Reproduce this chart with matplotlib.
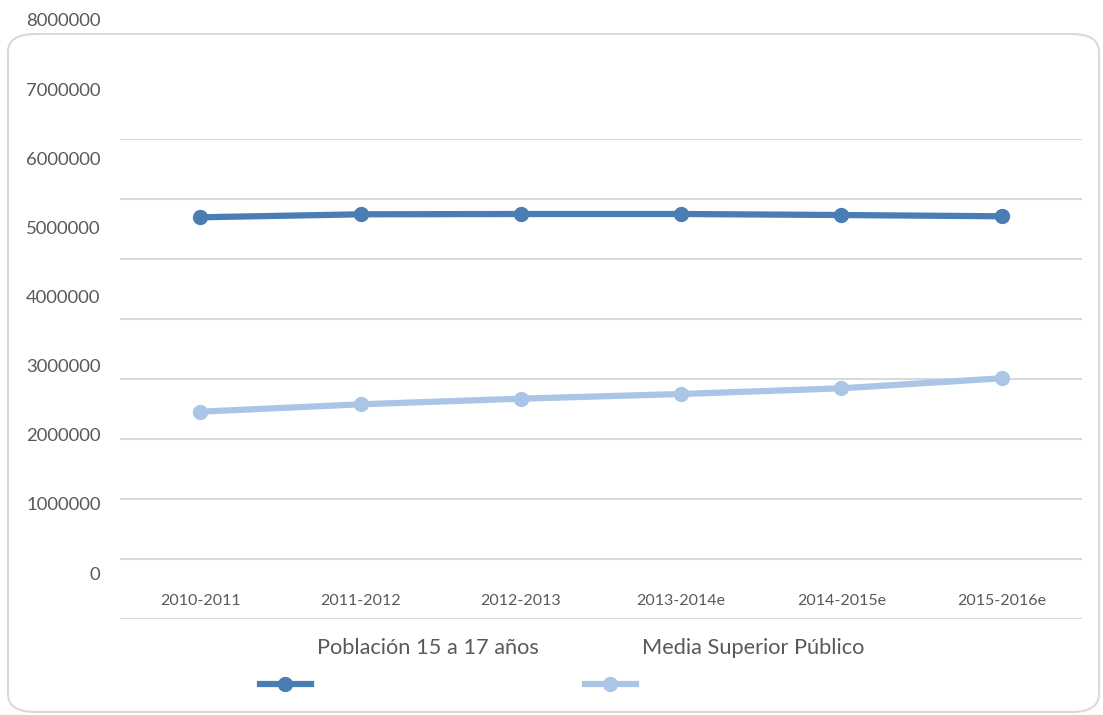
import matplotlib.pyplot as plt
from matplotlib.patches import FancyBboxPatch
from matplotlib.lines import Line2D

# Datos
ciclos = ["2010-2011", "2011-2012", "2012-2013", "2013-2014e", "2014-2015e", "2015-2016e"]
poblacion_15_17 = [6695000, 6745000, 6750000, 6750000, 6733000, 6712000]
media_superior_publico = [3455000, 3578000, 3672000, 3750000, 3845000, 4012000]
etiquetas_y = [0, 1000000, 2000000, 3000000, 4000000, 5000000, 6000000, 7000000, 8000000]

azul = "#4a7db3"
celeste = "#abc5e6"
gris = "#595959"
plt.rcParams["font.family"] = ["Lato", "DejaVu Sans"]

W, H = 1103, 715
fig = plt.figure(figsize=(W / 100, H / 100), dpi=100)

# marco redondeado
marco = FancyBboxPatch((8 / W, 3 / H), 1091 / W, 678 / H,
                       boxstyle="round,pad=0,rounding_size=0.025",
                       transform=fig.transFigure, fill=False,
                       edgecolor="#d9d9d9", linewidth=1.5)
fig.patches.append(marco)

# ejes principales (lineas y cuadricula)
ax = fig.add_axes([120 / W, (H - 619) / H, 962 / W, 480 / H])
x = range(len(ciclos))
ax.plot(x, poblacion_15_17, color=azul, lw=4.5, marker="o", ms=10,
        solid_capstyle="round", zorder=3)
ax.plot(x, media_superior_publico, color=celeste, lw=4.5, marker="o", ms=10,
        solid_capstyle="round", zorder=3)
ax.set_xlim(-0.5, len(ciclos) - 0.5)
ax.set_ylim(0, 8000000)
ax.set_yticks(etiquetas_y)
ax.set_yticklabels([])
ax.grid(axis="y", color="#d9d9d9", lw=1.5)
ax.set_axisbelow(True)
ax.set_xticks(list(x))
ax.set_xticklabels(ciclos, fontsize=11.5, color=gris)
ax.tick_params(axis="x", length=0, pad=-18)
ax.tick_params(axis="y", length=0)
for s in ax.spines.values():
    s.set_visible(False)

# eje de etiquetas (desplazado como en el original)
ax2 = fig.add_axes([120 / W, (H - 573) / H, 962 / W, 553 / H])
ax2.patch.set_visible(False)
ax2.set_ylim(0, 8000000)
ax2.set_yticks(etiquetas_y)
ax2.set_yticklabels([str(v) for v in etiquetas_y], fontsize=13.3, color=gris)
ax2.tick_params(axis="y", length=0, pad=14)
ax2.set_xticks([])
for s in ax2.spines.values():
    s.set_visible(False)

# leyenda
fig.text(317 / W, (H - 648) / H, "Población 15 a 17 años", fontsize=15.7,
         color=gris, va="center", ha="left")
fig.text(642 / W, (H - 648) / H, "Media Superior Público", fontsize=15.7,
         color=gris, va="center", ha="left")
for x0, c in [(260, azul), (585, celeste)]:
    fig.lines.append(Line2D([x0 / W, (x0 + 51) / W], [(H - 684) / H] * 2,
                            transform=fig.transFigure, color=c, lw=4.5))
    fig.lines.append(Line2D([(x0 + 25) / W], [(H - 684) / H],
                            transform=fig.transFigure, color=c, marker="o", ms=10))

fig.savefig("out.png", dpi=100)
